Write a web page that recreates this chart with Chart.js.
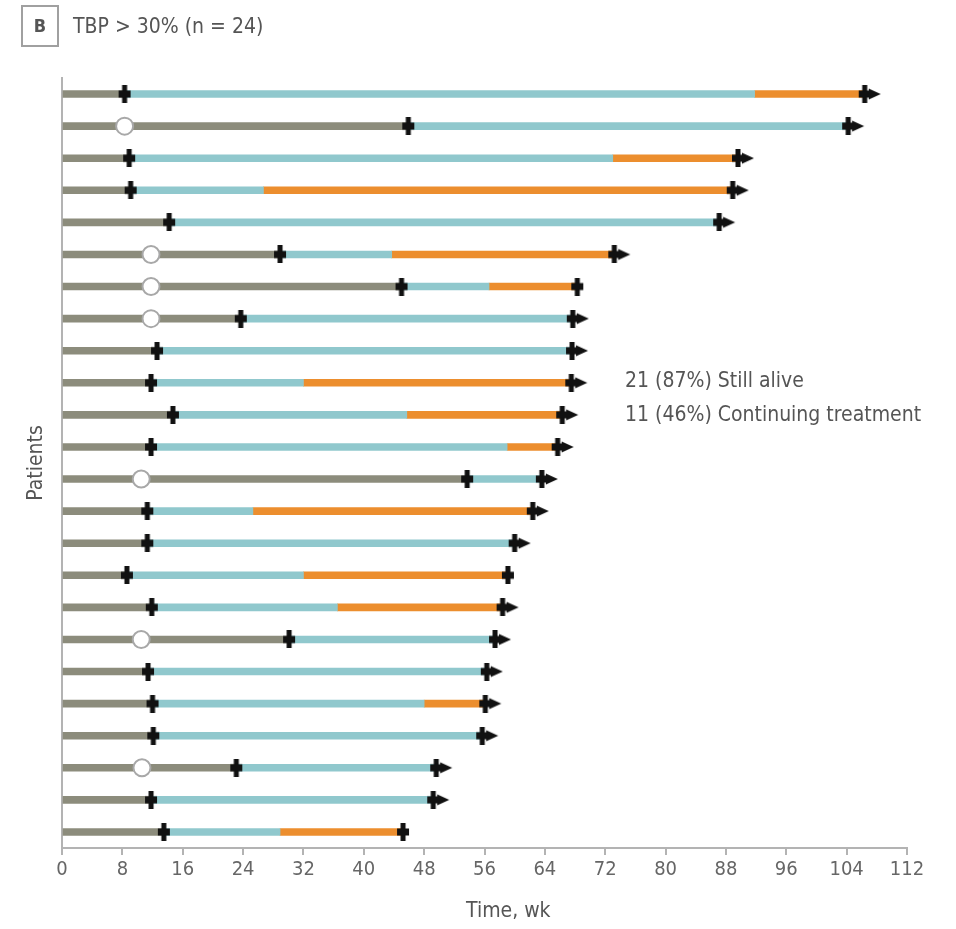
<!DOCTYPE html>
<html>
<head>
<meta charset="utf-8">
<script src="https://cdn.jsdelivr.net/npm/chart.js@4/dist/chart.umd.min.js"></script>
<style>
  body { margin: 0; background: #fff; font-family: "Liberation Sans Narrow", "DejaVu Sans Condensed", sans-serif; }
  #wrap { position: relative; width: 956px; height: 929px; }
  #chart-box { position: absolute; left: 0; top: 0; width: 956px; height: 929px; }
  .panel-tag { position: absolute; left: 21px; top: 5px; width: 34px; height: 38px; border: 2px solid #a0a0a0;
    color: #555; font-weight: bold; font-size: 18px; line-height: 38px; text-align: center; }
  .panel-title { position: absolute; left: 73px; top: 14px; font-size: 21px; color: #555; }
  .note { position: absolute; left: 625px; font-size: 21px; color: #555; white-space: nowrap; }
  .x-title { position: absolute; left: 466px; top: 898px; font-size: 21px; color: #555; }
</style>
</head>
<body>
<div id="wrap">
  <div id="chart-box"><canvas id="swimmer"></canvas></div>
  <div class="panel-tag">B</div>
  <div class="panel-title">TBP &gt; 30% (n = 24)</div>
  <div class="note" style="top:368px">21 (87%) Still alive</div>
  <div class="note" style="top:402px">11 (46%) Continuing treatment</div>
  <div class="x-title">Time, wk</div>
</div>
<script>
const patients = ["P1","P2","P3","P4","P5","P6","P7","P8","P9","P10","P11","P12",
  "P13","P14","P15","P16","P17","P18","P19","P20","P21","P22","P23","P24"];
// week of the open circle (null = none)
const circleWk = [null, 8.3, null, null, null, 11.8, 11.8, 11.8, null, null, null, null,
  10.5, null, null, null, null, 10.5, null, null, null, 10.6, null, null];
// end of the gray segment (black plus)
const grayEnd = [8.3, 45.9, 8.9, 9.1, 14.2, 28.9, 45.0, 23.7, 12.6, 11.8, 14.7, 11.8,
  53.7, 11.3, 11.3, 8.6, 11.9, 30.1, 11.4, 12.0, 12.1, 23.1, 11.8, 13.5];
// start of the orange segment (null = no orange)
const orangeStart = [91.8, null, 73.0, 26.7, null, 43.7, 56.6, null, null, 32.0, 45.7, 59.0,
  null, 25.3, null, 32.0, 36.5, null, null, 48.0, null, null, null, 28.9];
// end of follow-up
const endWk = [106.4, 104.2, 89.6, 88.9, 87.1, 73.2, 68.3, 67.7, 67.6, 67.5, 66.3, 65.7,
  63.6, 62.4, 60.0, 59.1, 58.4, 57.4, 56.3, 56.1, 55.7, 49.6, 49.2, 45.2];
const stillAlive = [true, true, true, true, true, true, false, true, true, true, true, true,
  true, true, true, false, true, true, true, true, true, true, true, false];
const xTicks = [0, 8, 16, 24, 32, 40, 48, 56, 64, 72, 80, 88, 96, 104, 112];

const grayColor = "#8c8c7c";
const blueColor = "#90c8cd";
const orangeColor = "#ec8e2e";
const fontFam = '"Liberation Sans Narrow", "DejaVu Sans Condensed", sans-serif';

// marker images: thick black plus, optionally followed by a right arrow
function makeMarker(withArrow) {
  const c = document.createElement("canvas");
  const w = withArrow ? 36 : 14, h = 18;
  c.width = w; c.height = h;
  const g = c.getContext("2d");
  const cx = w / 2;
  g.fillStyle = "#111";
  g.fillRect(cx - 2.5, 0, 5, h);
  g.fillRect(cx - 6, 5.5, 12, 7);
  if (withArrow) {
    g.beginPath();
    g.moveTo(cx + 4, 3.5);
    g.lineTo(cx + 16, 9);
    g.lineTo(cx + 4, 14.5);
    g.closePath();
    g.fill();
  }
  return c;
}
const plusImg = makeMarker(false);
const arrowImg = makeMarker(true);

const grayBars = patients.map((p, i) => [0, grayEnd[i]]);
const blueBars = patients.map((p, i) => [grayEnd[i], orangeStart[i] != null ? orangeStart[i] : endWk[i]]);
const orangeBars = patients.map((p, i) => orangeStart[i] != null ? [orangeStart[i], endWk[i]] : null);

const circlePts = [];
patients.forEach((p, i) => { if (circleWk[i] != null) circlePts.push({ x: circleWk[i], y: p }); });
const plusPts = patients.map((p, i) => ({ x: grayEnd[i], y: p }));
const endPts = patients.map((p, i) => ({ x: endWk[i], y: p }));

const barBase = { type: "bar", indexAxis: "y", grouped: false, barThickness: 7, borderWidth: 0, order: 3 };

new Chart(document.getElementById("swimmer"), {
  data: {
    labels: patients,
    datasets: [
      Object.assign({ label: "gray", data: grayBars, backgroundColor: grayColor }, barBase),
      Object.assign({ label: "blue", data: blueBars, backgroundColor: blueColor }, barBase),
      Object.assign({ label: "orange", data: orangeBars, backgroundColor: orangeColor }, barBase),
      {
        type: "scatter", label: "circle", data: circlePts, order: 2,
        pointStyle: "circle", pointRadius: 8.5, pointBackgroundColor: "#fff",
        pointBorderColor: "#a8a8a8", pointBorderWidth: 2
      },
      {
        type: "scatter", label: "response", data: plusPts, order: 1,
        pointStyle: plusImg, pointRadius: 8
      },
      {
        type: "scatter", label: "end", data: endPts, order: 0,
        pointStyle: (ctx) => stillAlive[ctx.dataIndex] ? arrowImg : plusImg, pointRadius: 8
      }
    ]
  },
  options: {
    indexAxis: "y",
    responsive: true,
    maintainAspectRatio: false,
    animation: false,
    layout: { padding: { top: 78, right: 49, left: 0, bottom: 0 } },
    plugins: { legend: { display: false }, tooltip: { enabled: false } },
    scales: {
      x: {
        type: "linear", min: 0, max: 112,
        afterBuildTicks: (axis) => { axis.ticks = xTicks.map(v => ({ value: v })); },
        afterFit: (axis) => { axis.height = 81; },
        grid: { drawOnChartArea: false, drawTicks: true, tickLength: 7, color: "#b3b3b3", lineWidth: 2 },
        border: { display: true, color: "#b3b3b3", width: 2 },
        ticks: { color: "#666", font: { family: fontFam, size: 20 }, padding: 3, maxRotation: 0, autoSkip: false }
      },
      y: {
        type: "category", labels: patients, offset: true,
        afterFit: (axis) => { axis.width = 62; },
        grid: { display: false },
        border: { display: true, color: "#b3b3b3", width: 2 },
        ticks: { display: false },
        title: { display: true, text: "Patients", color: "#555", font: { family: fontFam, size: 21 }, padding: { top: 24, bottom: 0 } }
      }
    }
  }
});
</script>
</body>
</html>
